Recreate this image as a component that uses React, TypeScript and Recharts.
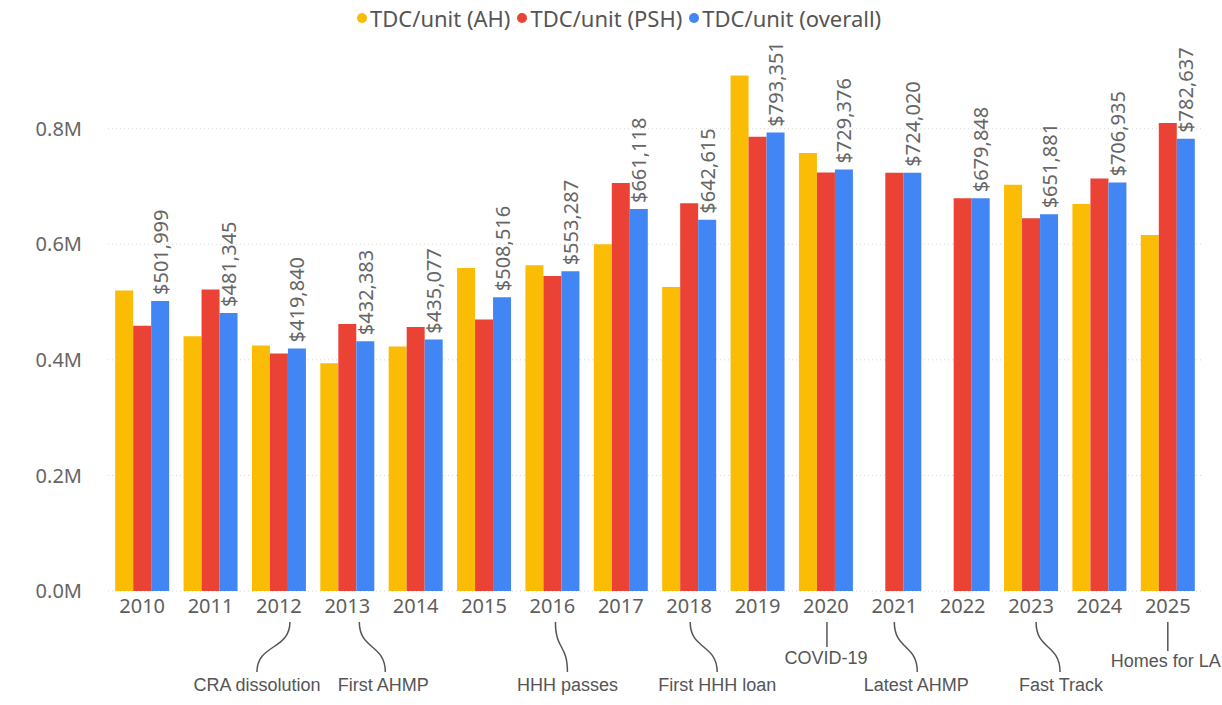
import React from "react";
import { BarChart, Bar, XAxis, YAxis, CartesianGrid, LabelList } from "recharts";

// ---------- data ----------
const years = ["2010", "2011", "2012", "2013", "2014", "2015", "2016", "2017", "2018", "2019", "2020", "2021", "2022", "2023", "2024", "2025"];
const ahValues = [520000, 441000, 425000, 394000, 423000, 559000, 564000, 600000, 526000, 892000, 758000, null, null, 703000, 670000, 616000];
const pshValues = [459000, 522000, 411000, 462000, 457000, 470000, 545000, 706000, 671000, 786000, 724500, 724020, 679848, 645000, 714000, 810000];
const overallValues = [501999, 481345, 419840, 432383, 435077, 508516, 553287, 661118, 642615, 793351, 729376, 724020, 679848, 651881, 706935, 782637];
const yTicks = [0, 200000, 400000, 600000, 800000];
const seriesNames = ["TDC/unit (AH)", "TDC/unit (PSH)", "TDC/unit (overall)"];
const eventYears = ["2012", "2013", "2016", "2018", "2020", "2021", "2023", "2025"];
const eventLabels = ["CRA dissolution", "First AHMP", "HHH passes", "First HHH loan", "COVID-19", "Latest AHMP", "Fast Track", "Homes for LA"];

// ---------- styling / layout ----------
const COLORS = ["#FBBC05", "#EA4335", "#4285F4"];
const FONT = "'Noto Sans', 'Open Sans', sans-serif";
const ANNOT_FONT = "'Liberation Sans', Arial, sans-serif";

// per-event connector layout: start dx, end dx, text dx, straight?, line end y, text baseline y (relative to tick y)
const eventLayout: Record<string, { s: number; e: number; t: number; straight: boolean; lineEnd: number; textY: number }> = {
  "2012": { s: 11, e: -22, t: -22, straight: false, lineEnd: 73, textY: 92 },
  "2013": { s: 12, e: 38, t: 36, straight: false, lineEnd: 73, textY: 92 },
  "2016": { s: 3, e: 15, t: 15, straight: false, lineEnd: 73, textY: 92 },
  "2018": { s: 1, e: 28, t: 28, straight: false, lineEnd: 73, textY: 92 },
  "2020": { s: 1, e: 1, t: 0, straight: true, lineEnd: 48, textY: 65 },
  "2021": { s: 0, e: 23, t: 22, straight: false, lineEnd: 73, textY: 92 },
  "2023": { s: 5, e: 29, t: 30, straight: false, lineEnd: 73, textY: 92 },
  "2025": { s: 0, e: 0, t: -2, straight: true, lineEnd: 52, textY: 68 },
};

const data = years.map((year, i) => ({
  year,
  ah: ahValues[i],
  psh: pshValues[i],
  overall: overallValues[i],
}));

const money = (v: number) => "$" + Number(v).toLocaleString("en-US");
const millions = (v: number) => (v / 1000000).toFixed(1) + "M";

const YearTick = (props: any) => {
  const { x, y, payload } = props;
  const year = String(payload.value);
  const idx = eventYears.indexOf(year);
  const lay = eventLayout[year];
  const top = y + 23;
  let connector = null;
  if (idx >= 0 && lay) {
    const x0 = x + lay.s;
    const x1 = x + lay.e;
    const y1 = y + lay.lineEnd;
    const d = lay.straight
      ? `M ${x0} ${top} L ${x1} ${y1}`
      : `M ${x0} ${top} C ${x0} ${top + 28} ${x1} ${y1 - 28} ${x1} ${y1}`;
    connector = (
      <g>
        <path d={d} stroke="#555" strokeWidth={1.5} fill="none" />
        <text x={x + lay.t} y={y + lay.textY} textAnchor="middle" fontSize={18} fill="#555" fontFamily={ANNOT_FONT}>
          {eventLabels[idx]}
        </text>
      </g>
    );
  }
  return (
    <g>
      <text x={x} y={y} dy="0.71em" textAnchor="middle" fontSize={20} fill="#605e5c" fontFamily={FONT}>
        {year}
      </text>
      {connector}
    </g>
  );
};

const RotatedLabel = (props: any) => {
  const { x, y, width, value } = props;
  if (value == null) return null;
  const cx = Number(x) + Number(width) / 2;
  const cy = Number(y) - 6;
  return (
    <text
      x={cx}
      y={cy}
      transform={`rotate(-90 ${cx} ${cy})`}
      textAnchor="start"
      dominantBaseline="central"
      fontSize={20}
      fill="#666"
      fontFamily={FONT}
    >
      {money(value)}
    </text>
  );
};

const LegendBox = () => (
  <div
    style={{
      position: "absolute",
      left: 357,
      top: 0,
      height: 36,
      display: "flex",
      alignItems: "center",
      fontFamily: FONT,
      fontSize: 22,
      color: "#555",
      whiteSpace: "nowrap",
    }}
  >
    {seriesNames.map((name, i) => (
      <div key={name} style={{ display: "flex", alignItems: "center", marginRight: 7 }}>
        <span
          style={{
            width: 10,
            height: 10,
            borderRadius: 5,
            background: COLORS[i],
            display: "inline-block",
            marginRight: 3,
          }}
        />
        <span>{name}</span>
      </div>
    ))}
  </div>
);

export default function App() {
  return (
    <div style={{ position: "absolute", left: 0, top: 0, width: 1222, height: 705, background: "#fff" }}>
      <BarChart
        width={1222}
        height={705}
        data={data}
        margin={{ top: 71, right: 20, bottom: 0, left: 0 }}
        barCategoryGap="10.5%"
        barGap={0}
      >
        <CartesianGrid vertical={false} horizontalValues={yTicks} stroke="#d6d6d6" strokeDasharray="1 3" />
        <XAxis
          dataKey="year"
          axisLine={false}
          tickLine={false}
          tickSize={0}
          tickMargin={8}
          interval={0}
          height={114}
          tick={<YearTick />}
        />
        <YAxis
          domain={[0, 900000]}
          ticks={yTicks}
          tickFormatter={millions}
          axisLine={false}
          tickLine={false}
          width={108}
          tickSize={0}
          tickMargin={26}
          tick={{ fontSize: 20, fill: "#666", fontFamily: FONT }}
        />
        <Bar dataKey="ah" name={seriesNames[0]} fill={COLORS[0]} isAnimationActive={false} />
        <Bar dataKey="psh" name={seriesNames[1]} fill={COLORS[1]} isAnimationActive={false} />
        <Bar dataKey="overall" name={seriesNames[2]} fill={COLORS[2]} isAnimationActive={false}>
          <LabelList dataKey="overall" content={<RotatedLabel />} />
        </Bar>
      </BarChart>
      <LegendBox />
    </div>
  );
}
